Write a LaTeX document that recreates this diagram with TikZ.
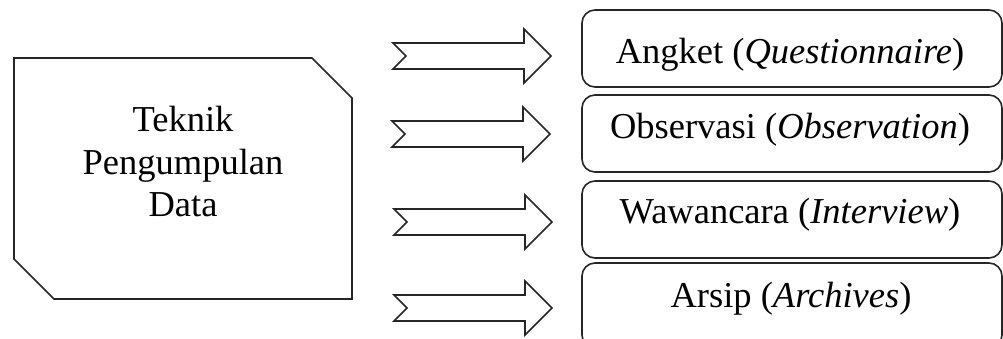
\documentclass[tikz,border=0pt]{standalone}
\usepackage{fontspec}
\setmainfont{Liberation Serif}
\begin{document}
\begin{tikzpicture}[x=1pt,y=-1pt,
  shapeline/.style={draw=black!85,line width=1.6pt,line join=miter},
  bigtext/.style={font=\fontsize{36.5}{42.5}\selectfont,align=center,inner sep=0pt},
  boxtext/.style={font=\fontsize{36.5}{42.5}\selectfont,inner sep=0pt,anchor=base},
  itembox/.style={shapeline,rounded corners=13pt,minimum width=420pt,minimum height=77pt,inner sep=0pt},
  notcharrow/.pic={\draw[shapeline] (0,-13) -- (131,-13) -- (131,-27) -- (158,0) -- (131,27) -- (131,13) -- (0,13) -- (13,0) -- cycle;}]
\useasboundingbox (0,0) rectangle (1003,338);
\clip (0,0) rectangle (1003,338);
% main box
\draw[shapeline] (14,58) -- (312,58) -- (352,98) -- (352,299) -- (54,299) -- (14,259) -- cycle;
\node[bigtext] (tek) at (183,162) {Teknik\\Pengumpulan\\Data};
% arrows
\pic at (393,56) {notcharrow};
\pic at (392,134) {notcharrow};
\pic at (394,222) {notcharrow};
\pic at (394,308) {notcharrow};
% right boxes
\node[itembox] (b1) at (792,48.5) {};
\node[itembox] (b2) at (792,133.5) {};
\node[itembox] (b3) at (792,219.5) {};
\node[itembox,minimum height=85pt] (b4) at (792,305.5) {};
\node[boxtext] (t1) at (790,63) {Angket (\textit{Questionnaire})};
\node[boxtext] (t2) at (790,138) {Observasi (\textit{Observation})};
\node[boxtext] (t3) at (790,223) {Wawancara (\textit{Interview})};
\node[boxtext] (t4) at (791,307) {Arsip (\textit{Archives})};
\end{tikzpicture}
\end{document}
